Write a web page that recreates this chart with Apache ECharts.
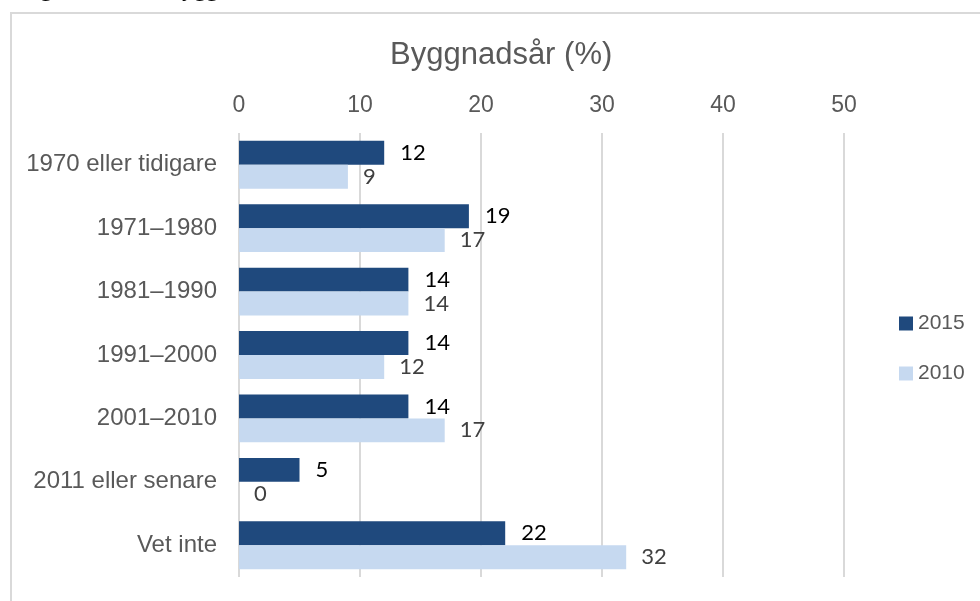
<!DOCTYPE html>
<html>
<head>
<meta charset="utf-8">
<script src="https://cdn.jsdelivr.net/npm/echarts@6/dist/echarts.min.js"></script>
<style>
  html, body { margin: 0; padding: 0; background: #fff; }
  #chart { width: 980px; height: 601px; }
</style>
</head>
<body>
<div id="chart"></div>
<script>
// data
const categories = ['1970 eller tidigare', '1971–1980', '1981–1990', '1991–2000', '2001–2010', '2011 eller senare', 'Vet inte']
const values2015 = [12, 19, 14, 14, 14, 5, 22]
const values2010 = [9, 17, 14, 12, 17, 0, 32]
const xTicks = [0, 10, 20, 30, 40, 50]

const chart = echarts.init(document.getElementById('chart'))

const option = {
  animation: false,
  title: {
    text: 'Byggnadsår (%)',
    left: 385,
    top: 35,
    textStyle: { fontFamily: 'Liberation Sans', fontSize: 31, fontWeight: 'normal', color: '#595959' }
  },
  legend: {
    orient: 'vertical',
    left: 894,
    top: 308,
    itemWidth: 14,
    itemHeight: 14,
    itemGap: 29,
    icon: 'rect',
    textStyle: { fontFamily: 'Liberation Sans', fontSize: 21, color: '#595959' },
    data: ['2015', '2010']
  },
  grid: { left: 239, right: 136, top: 133, bottom: 24, containLabel: false },
  xAxis: {
    type: 'value',
    position: 'top',
    min: xTicks[0],
    max: xTicks[xTicks.length - 1],
    interval: 10,
    axisLine: { show: false },
    axisTick: { show: false },
    axisLabel: { margin: 16, fontFamily: 'Liberation Sans', fontSize: 23, color: '#595959' },
    splitLine: { lineStyle: { color: '#d9d9d9', width: 2 } }
  },
  yAxis: {
    type: 'category',
    inverse: true,
    data: categories,
    axisLine: { show: false },
    axisTick: { show: false },
    axisLabel: { margin: 22, fontFamily: 'Liberation Sans', fontSize: 24, color: '#595959' }
  },
  series: [
    {
      name: '2015',
      type: 'bar',
      data: values2015,
      barGap: 0,
      barCategoryGap: '24.5%',
      itemStyle: { color: '#1f497d' },
      label: { show: true, position: 'right', distance: 16, fontFamily: 'Lato', fontSize: 22, color: '#000' }
    },
    {
      name: '2010',
      type: 'bar',
      data: values2010,
      barGap: 0,
      barCategoryGap: '24.5%',
      itemStyle: { color: '#c6d9f0' },
      label: { show: true, position: 'right', distance: 15, fontFamily: 'Lato', fontSize: 22, color: '#404040' }
    }
  ],
  graphic: [
    // frame of the chart area
    { type: 'rect', silent: true, shape: { x: 11, y: 13, width: 1100, height: 800 },
      style: { fill: 'none', stroke: '#d9d9d9', lineWidth: 2 } },
    // caption cut off at the top
    { type: 'text', left: 20, top: -22,
      style: { text: 'Figur 5.', font: '24px "Liberation Serif"', fill: '#000' } },
    { type: 'text', left: 166, top: -22,
      style: { text: 'Byggnadsår', font: '24px "Liberation Serif"', fill: '#000' } }
  ]
}

chart.setOption(option)
</script>
</body>
</html>
